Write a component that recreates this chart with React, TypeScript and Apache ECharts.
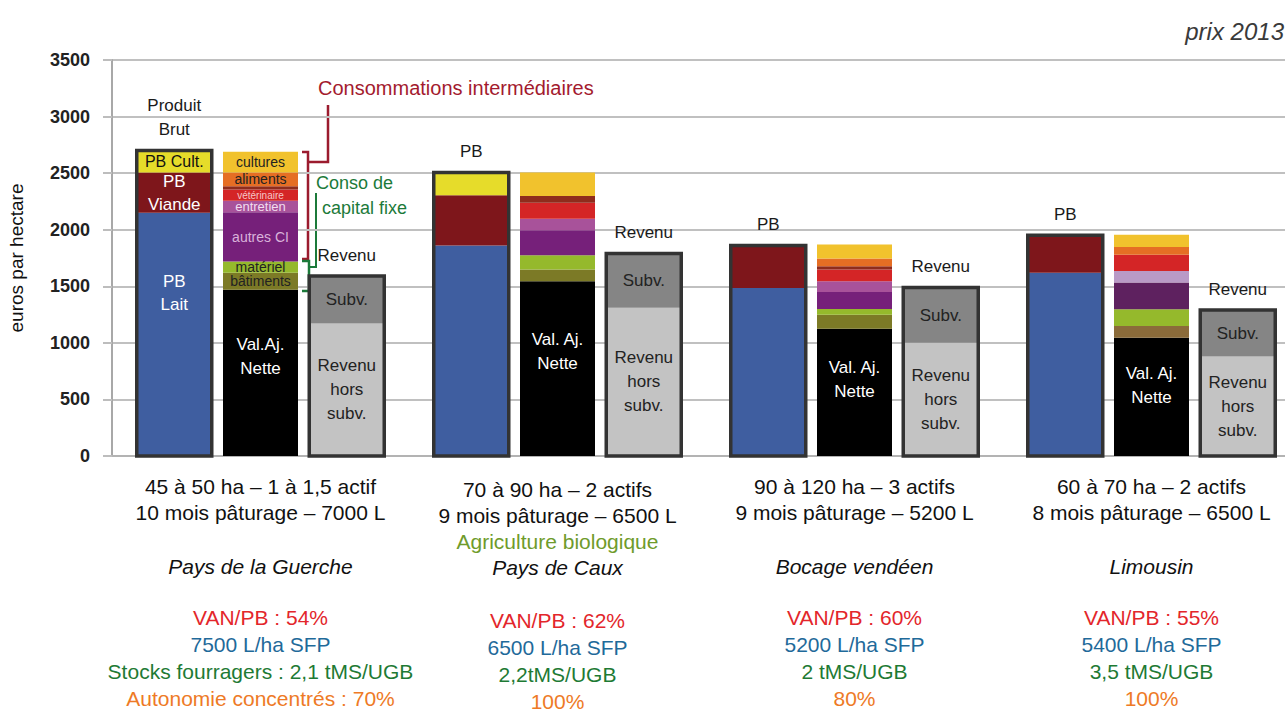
import React, { useEffect, useRef } from 'react';
import * as echarts from 'echarts';

const FONT = '"Liberation Sans", Arial, Helvetica, sans-serif';

// ---- categories & texts ----
const regions = ['Pays de la Guerche', 'Pays de Caux', 'Bocage vendéen', 'Limousin'];
const structureLines = ['45 à 50 ha – 1 à 1,5 actif', '70 à 90 ha – 2 actifs', '90 à 120 ha – 3 actifs', '60 à 70 ha – 2 actifs'];
const grazingLines = ['10 mois pâturage – 7000 L', '9 mois pâturage – 6500 L', '9 mois pâturage – 5200 L', '8 mois pâturage – 6500 L'];
const specialLines = ['', 'Agriculture biologique', '', ''];
const vanPbLines = ['VAN/PB : 54%', 'VAN/PB : 62%', 'VAN/PB : 60%', 'VAN/PB : 55%'];
const milkPerHaLines = ['7500 L/ha SFP', '6500 L/ha SFP', '5200 L/ha SFP', '5400 L/ha SFP'];
const stockLines = ['Stocks fourragers : 2,1 tMS/UGB', '2,2tMS/UGB', '2 tMS/UGB', '3,5 tMS/UGB'];
const autonomyLines = ['Autonomie concentrés : 70%', '100%', '80%', '100%'];

// ---- Produit brut (euros / ha) ----
const pbLait = [2150, 1860, 1485, 1620];
const pbViande = [355, 445, 375, 330];
const pbCult = [195, 200, 0, 0];

// ---- Valeur ajoutée nette + consommations (euros / ha) ----
const van = [1470, 1545, 1125, 1045];
const batiments = [150, 103, 124, 105];
const materiel = [100, 127, 51, 147];
const autresCI = [435, 221, 150, 236];
const entretien = [100, 101, 95, 103];
const veterinaire = [100, 142, 103, 142];
const fraisDivers = [30, 59, 29, 0];
const aliments = [120, 0, 69, 70];
const culturesCI = [185, 207, 124, 107];

// ---- Revenu (euros / ha) ----
const revenuHorsSubv = [1170, 1310, 1000, 880];
const subventions = [420, 480, 490, 410];

// ---- in-bar labels ----
const pbLaitLabels = ['PB\nLait', '', '', ''];
const pbViandeLabels = ['PB\nViande', '', '', ''];
const pbCultLabels = ['PB Cult.', '', '', ''];
const vanLabels = ['Val.Aj.\nNette', 'Val. Aj.\nNette', 'Val. Aj.\nNette', 'Val. Aj.\nNette'];
const batLabels = ['bâtiments', '', '', ''];
const matLabels = ['matériel', '', '', ''];
const autresLabels = ['autres CI', '', '', ''];
const entLabels = ['entretien', '', '', ''];
const vetLabels = ['vétérinaire', '', '', ''];
const alimLabels = ['aliments', '', '', ''];
const cultLabels = ['cultures', '', '', ''];
const subvLabels = ['Subv.', 'Subv.', 'Subv.', 'Subv.'];
const revLabels = ['Revenu\nhors\nsubv.', 'Revenu\nhors\nsubv.', 'Revenu\nhors\nsubv.', 'Revenu\nhors\nsubv.'];
const pbTopLabels = ['Produit\nBrut', 'PB', 'PB', 'PB'];
const revTopLabels = ['Revenu', 'Revenu', 'Revenu', 'Revenu'];

// ---- styles ----
const BAR_W = 75;
const BAR_GAP = 0.15;
const c4 = (c: string) => [c, c, c, c];
const colors = {
  lait: c4('#3F5EA0'),
  viande: c4('#7E161B'),
  pbcult: c4('#E6DC2A'),
  van: c4('#000000'),
  bat: ['#7C7A26', '#7C7A26', '#7C7A26', '#8B6B3A'],
  mat: c4('#95B92C'),
  autres: ['#76207A', '#76207A', '#76207A', '#5E215F'],
  ent: ['#A8529A', '#A8529A', '#A8529A', '#B99AC6'],
  vet: c4('#D42526'),
  frais: c4('#8F2C1C'),
  alim: c4('#E56E24'),
  cult: c4('#F1C22D'),
  revH: c4('#C3C3C3'),
  subv: c4('#858585'),
};

function bar(name: string, stack: string, values: number[], cols: string[], labels: string[] | null, labelStyle: any = {}) {
  return {
    type: 'bar',
    name,
    stack,
    barWidth: BAR_W,
    barGap: `${BAR_GAP * 100}%`,
    data: values.map((v, i) => ({ value: v, itemStyle: { color: cols[i] } })),
    label: labels
      ? {
          show: true,
          position: 'inside',
          formatter: (p: any) => labels[p.dataIndex] || '',
          fontFamily: FONT,
          fontSize: 17,
          color: '#1a1a1a',
          ...labelStyle,
        }
      : { show: false },
    emphasis: { disabled: true },
    silent: true,
  };
}

function outline(name: string, totals: number[], side: number, labels: string[], lineHeight: number) {
  return {
    type: 'custom',
    name,
    data: totals.map((v, i) => [i, v]),
    encode: { x: 0, y: 1 },
    z: 5,
    silent: true,
    clip: false,
    renderItem: (params: any, api: any) => {
      const i = api.value(0);
      const top = api.coord([i, api.value(1)]);
      const base = api.coord([i, 0]);
      const cx = top[0] + side * BAR_W * (1 + BAR_GAP);
      return {
        type: 'group',
        children: [
          {
            type: 'rect',
            shape: { x: cx - BAR_W / 2, y: top[1], width: BAR_W, height: base[1] - top[1] },
            style: { fill: 'none', stroke: '#333333', lineWidth: 3.5 },
          },
          {
            type: 'text',
            style: {
              text: labels[params.dataIndex],
              x: cx,
              y: top[1] - 9,
              align: 'center',
              verticalAlign: 'bottom',
              fontSize: 17,
              lineHeight,
              fontFamily: FONT,
              fill: '#1a1a1a',
            },
          },
        ],
      };
    },
  };
}

const pbTotals = pbLait.map((v, i) => v + pbViande[i] + pbCult[i]);
const revTotals = revenuHorsSubv.map((v, i) => v + subventions[i]);

const xFormatter = (_v: string, i: number) => {
  const bio = specialLines[i];
  const parts: string[] = [];
  if (bio) parts.push('{sp| }');
  parts.push(`{t|${structureLines[i]}}`);
  parts.push(`{t|${grazingLines[i]}}`);
  parts.push(bio ? `{bio|${bio}}` : '{g1| }');
  parts.push(`{it|${regions[i]}}`);
  parts.push(bio ? '{g3| }' : '{g2| }');
  parts.push(`{van|${vanPbLines[i]}}`);
  parts.push(`{lha|${milkPerHaLines[i]}}`);
  parts.push(`{ms|${stockLines[i]}}`);
  parts.push(`{au|${autonomyLines[i]}}`);
  return parts.join('\n');
};

const XS = 21;
const option: any = {
  animation: false,
  backgroundColor: '#ffffff',
  textStyle: { fontFamily: FONT },
  grid: { left: 112, right: -15, top: 60, bottom: 257, containLabel: false, outerBoundsMode: 'none' },
  xAxis: {
    type: 'category',
    data: regions,
    axisLine: { show: true, lineStyle: { color: '#b3b3b3', width: 2 } },
    axisTick: { show: false },
    axisLabel: {
      interval: 0,
      hideOverlap: false,
      margin: 17,
      formatter: xFormatter,
      rich: {
        sp: { fontSize: 2, lineHeight: 3 },
        t: { fontSize: XS, lineHeight: 26, color: '#111' },
        bio: { fontSize: XS, lineHeight: 26, color: '#6F9B2B' },
        it: { fontSize: XS, lineHeight: 26, color: '#111', fontStyle: 'italic' },
        g1: { fontSize: 2, lineHeight: 28 },
        g2: { fontSize: 2, lineHeight: 25 },
        g3: { fontSize: 2, lineHeight: 27 },
        van: { fontSize: XS, lineHeight: 27, color: '#E3262B' },
        lha: { fontSize: XS, lineHeight: 27, color: '#1F6A9A' },
        ms: { fontSize: XS, lineHeight: 27, color: '#1E7A34' },
        au: { fontSize: XS, lineHeight: 26, color: '#EE7A26' },
      },
    },
  },
  yAxis: {
    type: 'value',
    min: 0,
    max: 3500,
    interval: 500,
    name: 'euros par hectare',
    nameLocation: 'middle',
    nameRotate: 90,
    nameGap: 86,
    nameTextStyle: { fontSize: 19, color: '#111', fontFamily: FONT },
    axisLine: { show: true, lineStyle: { color: '#a8a8a8', width: 2 } },
    axisTick: { show: true, length: 9, lineStyle: { color: '#bdbdbd', width: 2 } },
    axisLabel: {
      fontSize: 18,
      fontWeight: 'bold',
      color: '#222',
      margin: 22,
      fontFamily: FONT,
      formatter: (v: number) => String(v),
    },
    splitLine: { show: true, lineStyle: { color: '#c0c0c0', width: 2 } },
  },
  series: [
    bar('PB Lait', 'pb', pbLait, colors.lait, pbLaitLabels, { color: '#fff', position: ['50%', '33%'], align: 'center', verticalAlign: 'middle', lineHeight: 23 }),
    bar('PB Viande', 'pb', pbViande, colors.viande, pbViandeLabels, { color: '#fff', lineHeight: 23 }),
    bar('PB Cult.', 'pb', pbCult, colors.pbcult, pbCultLabels, { color: '#111', fontSize: 16 }),

    bar('Val. Aj. Nette', 'ci', van, colors.van, vanLabels, { color: '#fff', position: ['50%', '40%'], align: 'center', verticalAlign: 'middle', lineHeight: 24 }),
    bar('bâtiments', 'ci', batiments, colors.bat, batLabels, { fontSize: 14, color: '#222' }),
    bar('matériel', 'ci', materiel, colors.mat, matLabels, { fontSize: 14, color: '#222' }),
    bar('autres CI', 'ci', autresCI, colors.autres, autresLabels, { fontSize: 14, color: '#D9B3DA' }),
    bar('entretien', 'ci', entretien, colors.ent, entLabels, { fontSize: 13, color: '#F2DDF0' }),
    bar('vétérinaire', 'ci', veterinaire, colors.vet, vetLabels, { fontSize: 10, color: '#F6C6C6' }),
    bar('frais divers', 'ci', fraisDivers, colors.frais, null),
    bar('aliments', 'ci', aliments, colors.alim, alimLabels, { fontSize: 14, color: '#222' }),
    bar('cultures', 'ci', culturesCI, colors.cult, cultLabels, { fontSize: 14, color: '#222' }),

    bar('Revenu hors subv.', 'rev', revenuHorsSubv, colors.revH, revLabels, { color: '#222', lineHeight: 24 }),
    bar('Subv.', 'rev', subventions, colors.subv, subvLabels, { color: '#222' }),

    outline('contour PB', pbTotals, -1, pbTopLabels, 24),
    outline('contour Revenu', revTotals, 1, revTopLabels, 24),
  ],
  graphic: [
    { type: 'text', right: 1, top: 19, style: { text: 'prix 2013', fontSize: 24, fontStyle: 'italic', fill: '#3a3a3a', fontFamily: FONT } },
    { type: 'text', x: 318, y: 88, style: { text: 'Consommations intermédiaires', fontSize: 20, fill: '#A31A2E', fontFamily: FONT, verticalAlign: 'middle' } },
    { type: 'polyline', shape: { points: [[328, 105], [328, 162], [309, 162]] }, style: { stroke: '#9B1B2E', lineWidth: 2.5, fill: 'none' } },
    { type: 'polyline', shape: { points: [[302, 152], [308, 152], [308, 259], [302, 259]] }, style: { stroke: '#9B1B2E', lineWidth: 2.5, fill: 'none' } },
    { type: 'text', x: 316, y: 183, style: { text: 'Conso de', fontSize: 18, fill: '#1C7A3A', fontFamily: FONT, verticalAlign: 'middle' } },
    { type: 'text', x: 322, y: 208, style: { text: 'capital fixe', fontSize: 18, fill: '#1C7A3A', fontFamily: FONT, verticalAlign: 'middle' } },
    { type: 'polyline', shape: { points: [[316, 193], [316, 267], [309, 267]] }, style: { stroke: '#1C7A3A', lineWidth: 2, fill: 'none' } },
    { type: 'polyline', shape: { points: [[302, 261], [309, 261], [309, 291], [302, 291]] }, style: { stroke: '#1C7A3A', lineWidth: 2.5, fill: 'none' } },
  ],
};

export default function App() {
  const ref = useRef<HTMLDivElement>(null);
  useEffect(() => {
    const chart = echarts.init(ref.current!, null, { renderer: 'svg' });
    chart.setOption(option);
    return () => chart.dispose();
  }, []);
  return (
    <div
      ref={ref}
      style={{ position: 'absolute', left: 0, top: 0, width: 1285, height: 713, background: '#fff' }}
    />
  );
}
